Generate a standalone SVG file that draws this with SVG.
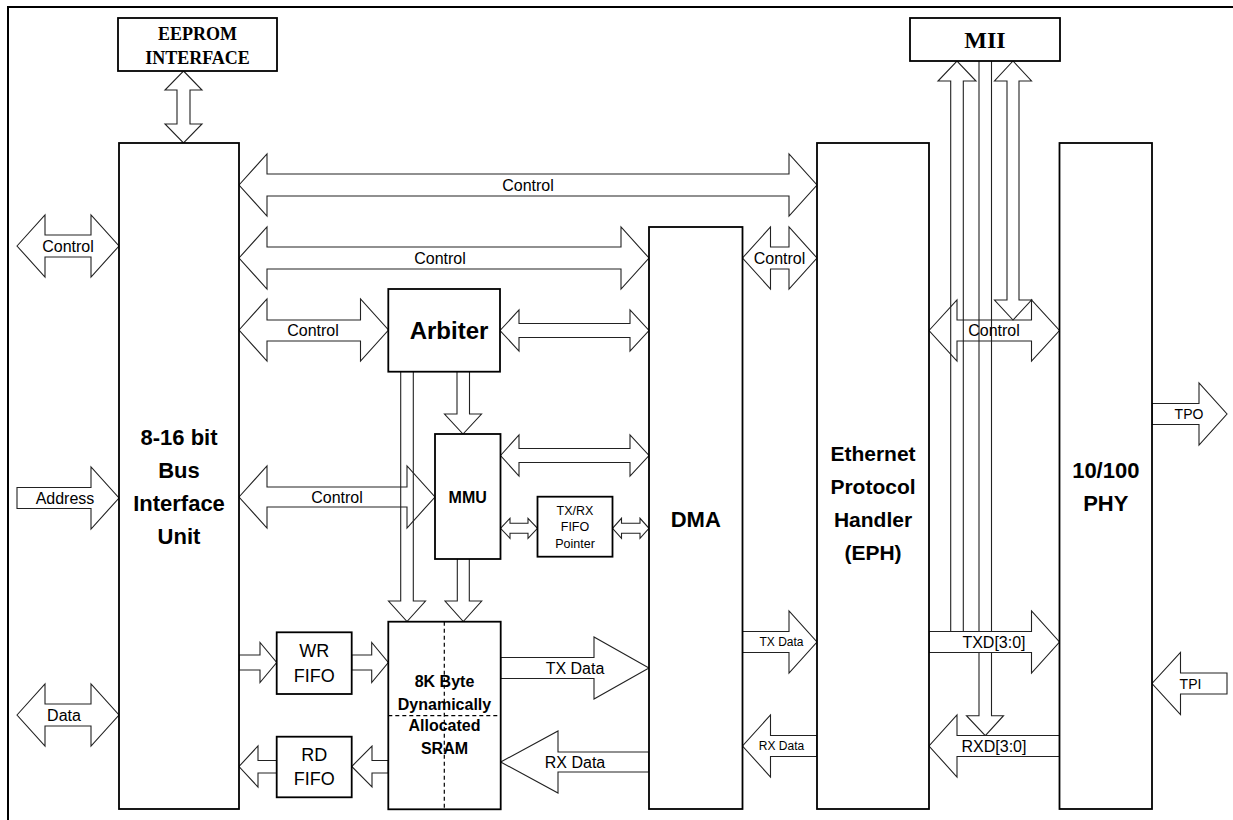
<svg xmlns="http://www.w3.org/2000/svg" width="1233" height="820" viewBox="0 0 1233 820">
<style>
.box{fill:#fff;stroke:#000;stroke-width:1.8}
.ar{fill:none;stroke:#222;stroke-width:1.1;stroke-linejoin:miter}
.arw{fill:#fff;stroke:#222;stroke-width:1.1}
.t{font-family:"Liberation Sans",Arial,sans-serif;text-anchor:middle;fill:#000}
.b{font-weight:bold}
.tr{font-family:"Liberation Serif","Times New Roman",serif;font-weight:bold;text-anchor:middle;fill:#000}
.dash{stroke:#000;stroke-width:1.2;stroke-dasharray:4,3;fill:none}
</style>
<rect width="1233" height="820" fill="#fff"/>
<g id="frame"><path d="M8,820 L8,7 L1233,7" fill="none" stroke="#000" stroke-width="2"/></g>

<g id="connectors">
<!-- EEPROM <-> BIU -->
<path class="ar" d="M183.5,71 L202,90 L190,90 L190,124 L202,124 L183.5,143 L165,124 L177,124 L177,90 L165,90 Z"/>
<!-- top control BIU<->EPH -->
<path class="ar" d="M239,185 L267,154 L267,174 L789,174 L789,154 L817,185 L789,216 L789,196 L267,196 L267,216 Z"/>
<!-- control BIU<->DMA -->
<path class="ar" d="M239,258 L267,227 L267,247 L621,247 L621,227 L649,258 L621,289 L621,269 L267,269 L267,289 Z"/>
<!-- control DMA<->EPH -->
<path class="ar" d="M742.5,258 L770.5,227 L770.5,247 L789,247 L789,227 L817,258 L789,289 L789,269 L770.5,269 L770.5,289 Z"/>
<!-- control BIU<->Arbiter -->
<path class="ar" d="M239,330 L267,299 L267,320 L360.5,320 L360.5,299 L388.5,330 L360.5,361 L360.5,341 L267,341 L267,361 Z"/>
<!-- Arbiter<->DMA -->
<path class="ar" d="M500,330.5 L519,310 L519,323.5 L630,323.5 L630,310 L649,330.5 L630,351 L630,337.5 L519,337.5 L519,351 Z"/>
<!-- MMU<->DMA -->
<path class="ar" d="M500.5,455.5 L519,435 L519,448.5 L630,448.5 L630,435 L649,455.5 L630,476 L630,462.5 L519,462.5 L519,476 Z"/>
<!-- MMU<->FIFO pointer -->
<path class="ar" d="M500.5,528.3 L510,518.3 L510,523.3 L528,523.3 L528,518.3 L537.5,528.3 L528,538.3 L528,533.3 L510,533.3 L510,538.3 Z"/>
<!-- FIFO pointer<->DMA -->
<path class="ar" d="M612.5,528.3 L621.5,518.3 L621.5,523.3 L640,523.3 L640,518.3 L649,528.3 L640,538.3 L640,533.3 L621.5,533.3 L621.5,538.3 Z"/>
<!-- control BIU<->MMU -->
<path class="ar" d="M239,497 L267,466 L267,487 L407,487 L407,466 L435,497 L407,528 L407,507 L267,507 L267,528 Z"/>
<!-- external left -->
<path class="ar" d="M17,246 L45,215 L45,235 L91,235 L91,215 L119,246 L91,277 L91,257 L45,257 L45,277 Z"/>
<path class="ar" d="M17,487.5 L91,487.5 L91,467 L119,498 L91,529 L91,508.5 L17,508.5 Z"/>
<path class="ar" d="M17,715 L45,684 L45,704 L91,704 L91,684 L119,715 L91,746 L91,726 L45,726 L45,746 Z"/>
<!-- BIU -> WR FIFO -> SRAM -->
<path class="ar" d="M239,655 L260,655 L260,642.5 L276.7,662.5 L260,682.5 L260,670 L239,670 Z"/>
<path class="ar" d="M351.7,655 L371.7,655 L371.7,642.5 L388.3,662.5 L371.7,682.5 L371.7,670 L351.7,670 Z"/>
<!-- SRAM -> RD FIFO -> BIU -->
<path class="ar" d="M388.3,760.5 L372,760.5 L372,746 L351.7,766.5 L372,787 L372,773 L388.3,773 Z"/>
<path class="ar" d="M276.7,760.5 L258,760.5 L258,746 L239,766.5 L258,787 L258,773 L276.7,773 Z"/>
<!-- SRAM <-> DMA data -->
<path class="ar" d="M500.7,657.5 L594,657.5 L594,637 L649,668 L594,699 L594,678.5 L500.7,678.5 Z"/>
<path class="ar" d="M649,752 L558,752 L558,731 L500.7,762 L558,793 L558,772 L649,772 Z"/>
<!-- DMA <-> EPH data -->
<path class="ar" d="M742.5,631.5 L789,631.5 L789,611 L817,642 L789,673 L789,652.5 L742.5,652.5 Z"/>
<path class="ar" d="M817,735.5 L770.5,735.5 L770.5,715 L742.5,746 L770.5,777 L770.5,756.5 L817,756.5 Z"/>
<!-- Arbiter -> MMU -->
<path class="ar" d="M457,372 L457,414 L444.5,414 L463,434 L481.5,414 L469.5,414 L469.5,372"/>
<!-- Arbiter -> SRAM -->
<path class="ar" d="M400.7,372 L400.7,601 L388.5,601 L407,621.5 L425.5,601 L413.3,601 L413.3,372"/>
<!-- MMU -> SRAM -->
<path class="ar" d="M457.3,559 L457.3,601 L445,601 L463.3,621.5 L481.7,601 L469.3,601 L469.3,559"/>
<!-- EPH <-> PHY control -->
<path class="ar" d="M929,330.5 L957,300 L957,320 L1031.5,320 L1031.5,300 L1059.5,330.5 L1031.5,361 L1031.5,341 L957,341 L957,361 Z"/>
<!-- MII arrows -->
<path class="ar" d="M950.7,632 L950.7,81 L938,81 L957,61 L976,81 L963.3,81 L963.3,632"/>
<path class="ar" d="M979,61 L979,715.7 L966.5,715.7 L985.3,735.7 L1003.5,715.7 L991.5,715.7 L991.5,61"/>
<path class="ar" d="M1013,61 L1031.5,81 L1019,81 L1019,300 L1031.5,300 L1013,320 L994.5,300 L1007,300 L1007,81 L994.5,81 Z"/>
<!-- EPH <-> PHY data -->
<path class="arw" d="M929,631.5 L1031.5,631.5 L1031.5,611 L1059.5,642 L1031.5,673 L1031.5,652.5 L929,652.5 Z"/>
<path class="arw" d="M1059.5,735.5 L957,735.5 L957,715 L929,746 L957,777 L957,756.5 L1059.5,756.5 Z"/>
<!-- TPO / TPI -->
<path class="ar" d="M1152,403.5 L1199,403.5 L1199,383 L1227,414 L1199,445 L1199,424.5 L1152,424.5 Z"/>
<path class="ar" d="M1227,673 L1180.5,673 L1180.5,652.5 L1152,683.5 L1180.5,714.5 L1180.5,694 L1227,694 Z"/>
</g>

<g id="eeprom">
<rect class="box" x="118" y="18" width="159" height="53"/>
<text class="tr" x="197.5" y="40" font-size="18">EEPROM</text>
<text class="tr" x="197.5" y="63.5" font-size="18">INTERFACE</text>
</g>
<g id="mii">
<rect class="box" x="910" y="18" width="150" height="43"/>
<text class="tr" x="985" y="48" font-size="24">MII</text>
</g>
<g id="biu">
<rect class="box" x="119" y="143" width="120" height="666"/>
<text class="t b" x="179" y="444.7" font-size="22">8-16 bit</text>
<text class="t b" x="179" y="477.7" font-size="22">Bus</text>
<text class="t b" x="179" y="510.7" font-size="22">Interface</text>
<text class="t b" x="179" y="543.7" font-size="22">Unit</text>
</g>
<g id="arbiter">
<rect class="box" x="388.3" y="289" width="111.7" height="82.7"/>
<text class="t b" x="449" y="338.5" font-size="24">Arbiter</text>
</g>
<g id="mmu">
<rect class="box" x="435" y="434" width="65.5" height="125"/>
<text class="t b" x="467.7" y="502.6" font-size="16">MMU</text>
</g>
<g id="fifo-pointer">
<rect class="box" x="537.5" y="496.7" width="75" height="60"/>
<text class="t" x="575" y="515" font-size="12.5">TX/RX</text>
<text class="t" x="575" y="531" font-size="12.5">FIFO</text>
<text class="t" x="575" y="547.7" font-size="12.5">Pointer</text>
</g>
<g id="wr-fifo">
<rect class="box" x="276.7" y="632.3" width="75" height="61.7"/>
<text class="t" x="314.2" y="657" font-size="18">WR</text>
<text class="t" x="314.2" y="682.3" font-size="18">FIFO</text>
</g>
<g id="rd-fifo">
<rect class="box" x="276.7" y="736.7" width="75" height="60.6"/>
<text class="t" x="314.2" y="760.6" font-size="18">RD</text>
<text class="t" x="314.2" y="785.3" font-size="18">FIFO</text>
</g>
<g id="sram">
<rect class="box" x="388.3" y="621.7" width="112.4" height="187.6"/>
<path class="dash" d="M444.3,621.7 L444.3,809.3 M388.3,715.7 L500.7,715.7"/>
<text class="t b" x="444.5" y="687.3" font-size="16">8K Byte</text>
<text class="t b" x="444.5" y="709.6" font-size="16">Dynamically</text>
<text class="t b" x="444.5" y="731.3" font-size="16">Allocated</text>
<text class="t b" x="444.5" y="753.9" font-size="16">SRAM</text>
</g>
<g id="dma">
<rect class="box" x="649" y="227" width="93.5" height="582"/>
<text class="t b" x="695.8" y="526.7" font-size="22">DMA</text>
</g>
<g id="eph">
<rect class="box" x="817" y="143" width="112" height="666"/>
<text class="t b" x="873" y="460.5" font-size="21">Ethernet</text>
<text class="t b" x="873" y="493.5" font-size="21">Protocol</text>
<text class="t b" x="873" y="526.5" font-size="21">Handler</text>
<text class="t b" x="873" y="559.5" font-size="21">(EPH)</text>
</g>
<g id="phy">
<rect class="box" x="1059.5" y="143" width="92.5" height="666"/>
<text class="t b" x="1105.8" y="477.7" font-size="22">10/100</text>
<text class="t b" x="1105.8" y="510.7" font-size="22">PHY</text>
</g>

<g id="labels">
<text class="t" x="528" y="190.7" font-size="16">Control</text>
<text class="t" x="440" y="263.7" font-size="16">Control</text>
<text class="t" x="779.5" y="263.7" font-size="16">Control</text>
<text class="t" x="313" y="335.7" font-size="16">Control</text>
<text class="t" x="337" y="502.7" font-size="16">Control</text>
<text class="t" x="994" y="336" font-size="16">Control</text>
<text class="t" x="68" y="251.6" font-size="16">Control</text>
<text class="t" x="65" y="503.6" font-size="16">Address</text>
<text class="t" x="64" y="720.6" font-size="16">Data</text>
<text class="t" x="575" y="673.6" font-size="16">TX Data</text>
<text class="t" x="575" y="767.6" font-size="16">RX Data</text>
<text class="t" x="781.5" y="646.2" font-size="12">TX Data</text>
<text class="t" x="781.5" y="750.2" font-size="12">RX Data</text>
<text class="t" x="994" y="647.6" font-size="16">TXD[3:0]</text>
<text class="t" x="994" y="751.6" font-size="16">RXD[3:0]</text>
<text class="t" x="1189" y="419" font-size="14">TPO</text>
<text class="t" x="1190.5" y="688.5" font-size="14">TPI</text>
</g>
</svg>
